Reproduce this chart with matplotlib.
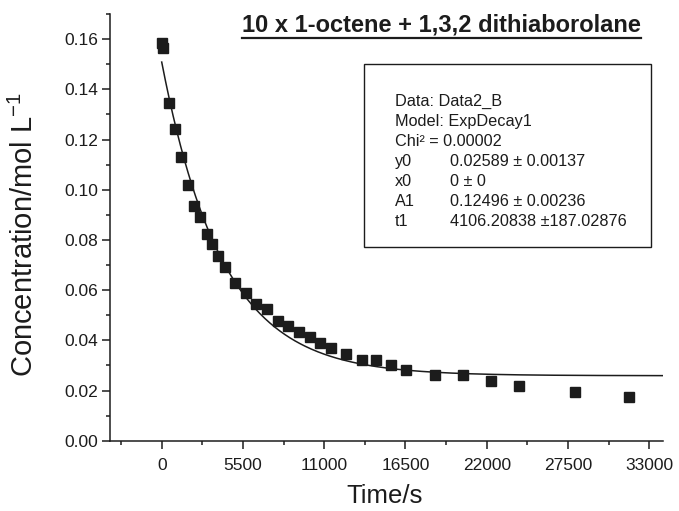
import matplotlib
matplotlib.use("Agg")
import numpy as np
import matplotlib.pyplot as plt
from matplotlib.patches import Rectangle
from matplotlib.lines import Line2D
from matplotlib.ticker import MultipleLocator

plt.rcParams['font.family'] = ['Liberation Sans', 'DejaVu Sans']
plt.rcParams['mathtext.fontset'] = 'custom'
plt.rcParams['mathtext.rm'] = 'Liberation Sans'
plt.rcParams['mathtext.it'] = 'Liberation Sans'
plt.rcParams['mathtext.bf'] = 'Liberation Sans:bold'

# measured data (Time/s, concentration/mol L-1)
time_s = [0, 110, 470, 900, 1307, 1760, 2187, 2573, 3047, 3426, 3832, 4265,
          4983, 5687, 6364, 7150, 7890, 8570, 9300, 10020, 10740, 11460,
          12480, 13540, 14510, 15540, 16560, 18480, 20400, 22310, 24210,
          27980, 31660]
conc = [0.1586, 0.1566, 0.1347, 0.1240, 0.1130, 0.1020, 0.0934, 0.0890,
        0.0824, 0.0782, 0.0736, 0.0694, 0.0627, 0.0587, 0.0544, 0.0523,
        0.0478, 0.0456, 0.0435, 0.0414, 0.0390, 0.0368, 0.0347, 0.0323,
        0.0323, 0.0303, 0.0280, 0.0260, 0.0260, 0.0239, 0.0216, 0.0194,
        0.0174]

# ExpDecay1 fit parameters shown in the box
y0 = 0.02589
x0 = 0.0
A1 = 0.12496
t1 = 4106.20838

box_labels = ["y0", "x0", "A1", "t1"]
box_values = ["0.02589 \u00b1 0.00137", "0 \u00b1 0", "0.12496 \u00b1 0.00236",
              "4106.20838 \u00b1187.02876"]

W, H = 679, 511
ink = '#1c1c1c'

fig = plt.figure(figsize=(W / 100, H / 100), dpi=100)
ax = fig.add_axes([110 / W, 1 - 440.7 / H, (663.3 - 110) / W, (440.7 - 14) / H])

# fitted curve
t_fit = np.linspace(0, 33950, 400)
c_fit = y0 + A1 * np.exp(-(t_fit - x0) / t1)
ax.plot(t_fit, c_fit, color=ink, lw=1.1, zorder=2)
ax.plot(time_s, conc, ls='none', marker='s', ms=7, color=ink, zorder=3)

ax.set_xlim(-3500, 33950)
ax.set_ylim(0, 0.170)
ax.set_xticks([0, 5500, 11000, 16500, 22000, 27500, 33000])
ax.xaxis.set_minor_locator(MultipleLocator(2750))
ax.set_yticks(np.arange(0, 0.161, 0.02))
ax.yaxis.set_minor_locator(MultipleLocator(0.01))
ax.yaxis.set_major_formatter(matplotlib.ticker.FormatStrFormatter('%.2f'))

for s in ['top', 'right']:
    ax.spines[s].set_visible(False)
for s in ['left', 'bottom']:
    ax.spines[s].set_linewidth(1.1)
    ax.spines[s].set_color(ink)
ax.tick_params(which='major', length=5.5, width=1.1, color=ink, labelsize=12.5,
               labelcolor=ink)
ax.tick_params(which='minor', length=3, width=1.1, color=ink)
ax.tick_params(axis='x', which='major', pad=7)
ax.tick_params(axis='y', which='major', pad=3)

fig.text(385 / W, 1 - 503 / H, "Time/s", fontsize=18.5, color=ink,
         ha='center', va='baseline')
fig.text(24 / W, 1 - 234 / H, "Concentration/mol L$^{-1}$", fontsize=21,
         color=ink, rotation=90, ha='center', va='center')

# title with underline
title = fig.text(241.7 / W, 1 - 31 / H, "10 x 1-octene + 1,3,2 dithiaborolane",
                 fontsize=17, fontweight='bold', color=ink, ha='left',
                 va='baseline')
fig.canvas.draw()
bb = title.get_window_extent().transformed(fig.transFigure.inverted())
fig.add_artist(Line2D([bb.x0, bb.x1], [1 - 37.7 / H] * 2, color=ink, lw=1.6,
                      transform=fig.transFigure))

# fit results box
fig.add_artist(Rectangle((364 / W, 1 - 247 / H), 287 / W, 183 / H,
                         fill=False, ec=ink, lw=1.0, transform=fig.transFigure))
head = ["Data: Data2_B", "Model: ExpDecay1", "Chi\u00b2 = 0.00002"]
base = 105.7
for i, line in enumerate(head):
    fig.text(395 / W, 1 - (base + 20 * i) / H, line, fontsize=11.7, color=ink,
             va='baseline')
for i, (lab, val) in enumerate(zip(box_labels, box_values)):
    yy = 1 - (base + 20 * (i + 3)) / H
    fig.text(395 / W, yy, lab, fontsize=11.7, color=ink, va='baseline')
    fig.text(450 / W, yy, val, fontsize=11.7, color=ink, va='baseline')

fig.savefig("out.png", dpi=100)
